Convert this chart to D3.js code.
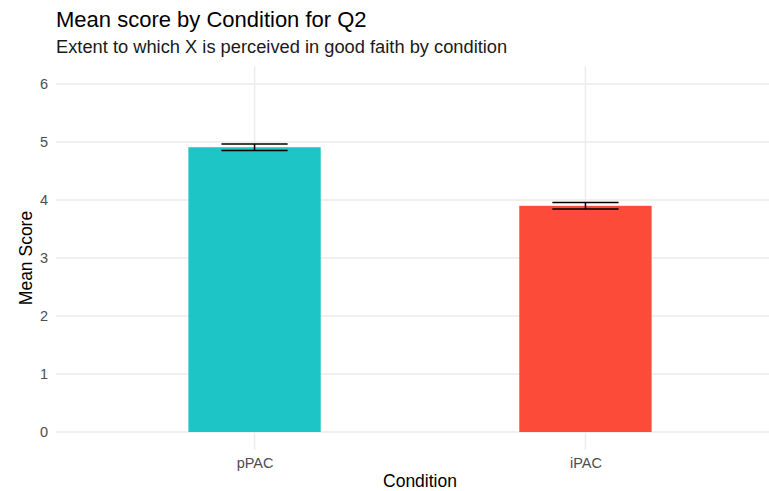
<!DOCTYPE html>
<html>
<head>
<meta charset="utf-8">
<script src="https://cdn.jsdelivr.net/npm/d3@7"></script>
<style>
  html, body { margin: 0; padding: 0; background: #fff; }
  svg { display: block; font-family: "Liberation Sans", Arial, Helvetica, sans-serif; }
</style>
</head>
<body>
<svg id="chart" width="769" height="491"></svg>
<script>
// ---- data ----
const categories = ["pPAC", "iPAC"];
const meanScores = [4.91, 3.90];
const stdErrors = [0.055, 0.056];
const barColors = ["#1dc5c6", "#fd4b3a"];
const yTicks = [0, 1, 2, 3, 4, 5, 6];
const titleText = "Mean score by Condition for Q2";
const subtitleText = "Extent to which X is perceived in good faith by condition";
const xTitle = "Condition";
const yTitle = "Mean Score";

const svg = d3.select("#chart");
const panel = { left: 56, right: 784, top: 66.6, bottom: 449.4 };

const x = d3.scalePoint().domain(categories).range([panel.left, panel.right]).padding(0.6);
const y = d3.scaleLinear().domain([-0.3, 6.3]).range([panel.bottom, panel.top]);
const step = x.step();
const barW = step * 0.4;
const errW = step * 0.2;

const data = categories.map((c, i) => ({ c, m: meanScores[i], se: stdErrors[i], col: barColors[i] }));

// gridlines
const grid = svg.append("g");
grid.selectAll("line.h").data(yTicks).join("line")
  .attr("x1", panel.left).attr("x2", panel.right)
  .attr("y1", d => y(d)).attr("y2", d => y(d))
  .attr("stroke", "#ebebeb").attr("stroke-width", 1.4);
grid.selectAll("line.v").data(categories).join("line")
  .attr("x1", d => x(d)).attr("x2", d => x(d))
  .attr("y1", panel.top).attr("y2", panel.bottom)
  .attr("stroke", "#ebebeb").attr("stroke-width", 1.4);

// bars
svg.append("g").selectAll("rect").data(data).join("rect")
  .attr("x", d => x(d.c) - barW / 2)
  .attr("width", barW)
  .attr("y", d => y(d.m))
  .attr("height", d => y(0) - y(d.m))
  .attr("fill", d => d.col);

// error bars
const eb = svg.append("g").attr("stroke", "#000").attr("stroke-width", 1.5).attr("fill", "none");
data.forEach(d => {
  const cx = x(d.c);
  eb.append("line").attr("x1", cx).attr("x2", cx).attr("y1", y(d.m + d.se)).attr("y2", y(d.m - d.se));
  eb.append("line").attr("x1", cx - errW / 2).attr("x2", cx + errW / 2).attr("y1", y(d.m + d.se)).attr("y2", y(d.m + d.se));
  eb.append("line").attr("x1", cx - errW / 2).attr("x2", cx + errW / 2).attr("y1", y(d.m - d.se)).attr("y2", y(d.m - d.se));
});

// y axis labels
const yAxis = d3.axisLeft(y).tickValues(yTicks).tickSize(0).tickPadding(0).tickFormat(d3.format("d"));
const ya = svg.append("g").attr("transform", `translate(${panel.left - 8},0)`).call(yAxis);
ya.select(".domain").remove();
ya.selectAll("text").attr("fill", "#4d4d4d").style("font-size", "14.5px").style("font-family", "Liberation Sans, Arial, sans-serif");

// x axis labels
const xAxis = d3.axisBottom(x).tickSize(0).tickPadding(0);
const xa = svg.append("g").attr("transform", `translate(0,${panel.bottom + 6})`).call(xAxis);
xa.select(".domain").remove();
xa.selectAll("text").attr("fill", "#4d4d4d").attr("dy", "0.71em").attr("y", 2).style("font-size", "14.5px").style("font-family", "Liberation Sans, Arial, sans-serif");

// titles
svg.append("text").attr("x", 56).attr("y", 27).attr("fill", "#000")
  .style("font-size", "22px").text(titleText);
svg.append("text").attr("x", 56).attr("y", 53).attr("fill", "#1a1a1a")
  .style("font-size", "18.3px").text(subtitleText);

// axis titles
svg.append("text").attr("x", (panel.left + panel.right) / 2).attr("y", 487)
  .attr("text-anchor", "middle").attr("fill", "#000").style("font-size", "17.5px").text(xTitle);
svg.append("text").attr("transform", `translate(32,${(panel.top + panel.bottom) / 2}) rotate(-90)`)
  .attr("text-anchor", "middle").attr("fill", "#000").style("font-size", "17.5px").text(yTitle);
</script>
</body>
</html>
